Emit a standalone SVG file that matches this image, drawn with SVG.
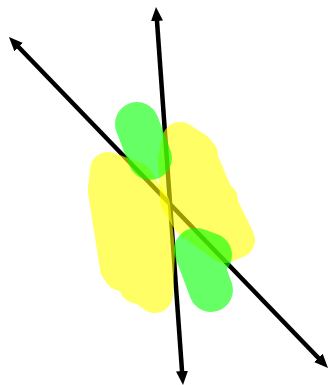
<svg xmlns="http://www.w3.org/2000/svg" width="328" height="385" viewBox="0 0 328 385">
<style>
.axis{stroke:#000;stroke-width:4.5;fill:none;marker-start:url(#ah);marker-end:url(#ah)}
.blob{stroke-linecap:round;stroke-linejoin:round;stroke-width:36}
.y{fill:#ff0;stroke:#ff0}
.g{fill:none;stroke:#0f0;stroke-width:44}
</style>
<defs>
<marker id="ah" markerUnits="userSpaceOnUse" markerWidth="14" markerHeight="12" refX="4" refY="6" orient="auto-start-reverse">
<path d="M0,0 L14,6 L0,12 z" fill="#000"/>
</marker>
</defs>
<rect width="328" height="385" fill="#fff"/>
<g id="connectors">
<line class="axis" x1="15.9" y1="44.2" x2="321.1" y2="360.8"/>
<line class="axis" x1="156.7" y1="17" x2="182.3" y2="375"/>
</g>
<g id="yellow-left" opacity="0.6">
<path class="blob y" d="M108,170 L106,192 L118,268 L135,280 L155,295 L157,250 L152,205 L135,180 Z"/>
<circle cx="107" cy="188" r="19" fill="#ff0"/>
<circle cx="122" cy="272" r="19" fill="#ff0"/>
<circle cx="138" cy="285" r="19" fill="#ff0"/>
</g>
<g id="yellow-right" opacity="0.6">
<path class="blob y" d="M180,140 L196,150 L215,195 L237,240 L225,245 L190,220 L178,200 L176,160 Z"/>
<circle cx="200" cy="155" r="18" fill="#ff0"/>
<circle cx="220" cy="200" r="18" fill="#ff0"/>
</g>
<g id="green-top" opacity="0.6">
<path class="blob g" d="M137,124 L150,158"/>
</g>
<g id="green-bottom" opacity="0.6">
<path class="blob g" d="M210,255 L196,250 L211,290"/>
</g>
</svg>
